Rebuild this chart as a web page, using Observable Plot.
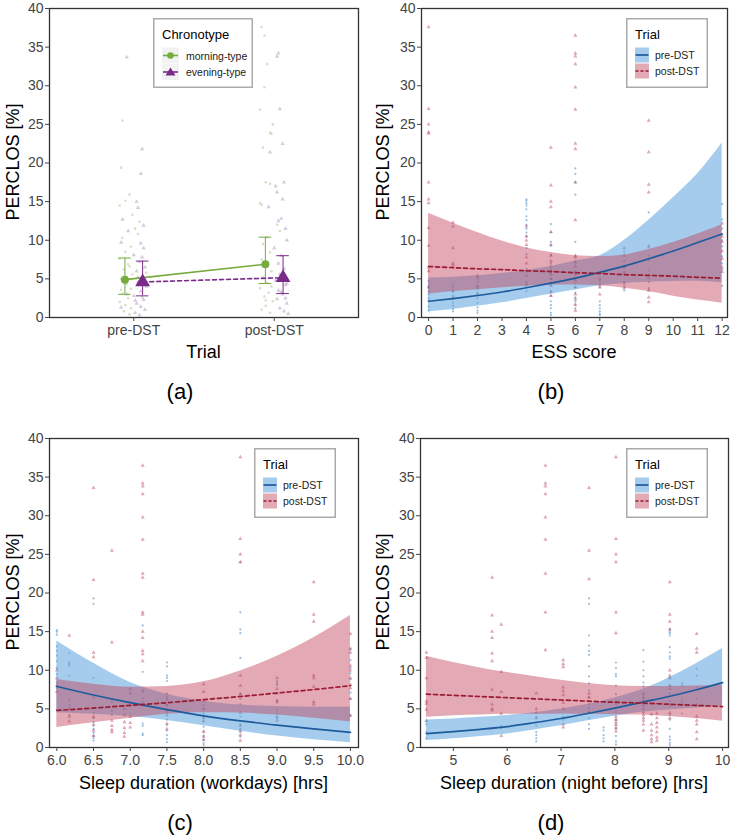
<!DOCTYPE html>
<html><head><meta charset="utf-8">
<script src="https://cdn.jsdelivr.net/npm/d3@7"></script>
<script src="https://cdn.jsdelivr.net/npm/@observablehq/plot@0.6"></script>
<style>
body{margin:0;background:#fff;}
#fig{position:relative;width:733px;height:835px;background:#fff;font-family:"Liberation Sans",Arial,sans-serif;overflow:hidden}
.panel{position:absolute}
.ytitle{position:absolute;font-size:18px;color:#000;transform:translate(-50%,-50%) rotate(-90deg);white-space:nowrap;line-height:1}
.xtitle{position:absolute;font-size:18px;color:#000;transform:translate(-50%,-50%);white-space:nowrap;line-height:1}
.cap{position:absolute;font-size:22px;color:#000;transform:translate(-50%,-50%);white-space:nowrap;line-height:1}
.legend{position:absolute}
</style>
</head><body>
<div id="fig"></div>
<script>
// ---------- Panel (a): PERCLOS by trial and chronotype ----------
const trials = ["pre-DST", "post-DST"];
const chronotypes = ["morning-type", "evening-type"];
const aMean = [[4.9, 6.9], [4.6, 5.15]];   // [chronotype][trial]
const aLow  = [[3.0, 4.4], [2.8, 3.1]];
const aHigh = [[7.7, 10.4], [7.3, 8.0]];
// jittered raw points: [jitter, PERCLOS, chronotype index]
const aPrePoints = [
 [-0.05,33.7,1],[-0.08,25.5,0],[0.06,21.8,1],[-0.09,19.4,0],[0.05,18.6,1],[-0.03,15.9,0],[-0.06,15.1,0],[0.02,15.0,1],
 [-0.1,14.5,0],[0.03,14.2,1],[0.04,12.4,0],[-0.08,12.7,1],[0.01,11.5,0],[-0.04,11.2,1],[0.03,10.8,0],[0.05,9.6,1],
 [-0.09,9.7,1],[-0.02,9.2,0],[0.07,9.0,1],[-0.06,8.5,0],[0.0,8.1,1],[-0.1,7.6,0],[0.04,7.2,1],[-0.04,6.9,0],
 [0.08,6.5,1],[-0.07,6.2,0],[0.02,6.0,1],[-0.01,5.6,0],[0.06,5.3,1],[-0.09,5.0,0],[0.03,4.6,1],[-0.05,4.3,0],
 [0.09,4.0,1],[-0.02,3.7,0],[0.05,3.4,1],[-0.08,3.1,0],[0.0,2.8,1],[-0.04,2.5,0],[0.07,2.3,1],[-0.1,2.0,0],
 [0.02,1.8,1],[-0.06,1.6,0],[0.05,1.4,1],[-0.02,1.2,0],[0.08,1.0,1],[-0.07,0.8,0],[0.01,0.6,1],[-0.03,0.4,0],
 [0.04,0.3,1],[-0.09,1.3,1],[0.06,2.6,0],[-0.05,3.0,1],[0.09,5.8,0],[-0.08,10.3,0],[0.07,11.9,1],[-0.01,13.3,0],
 [-0.07,4.8,0],[0.03,5.2,1],[-0.03,6.6,0],[0.06,7.8,1],[-0.09,3.6,0],[0.01,2.2,1]
];
const aPostPoints = [
 [-0.09,37.6,0],[-0.07,36.5,0],[0.03,34.2,1],[0.02,33.8,1],[-0.05,32.8,0],[-0.07,29.8,0],[-0.1,26.9,0],[0.04,27.0,1],
 [-0.01,25.0,0],[-0.03,23.9,0],[-0.02,23.8,0],[0.06,22.5,1],[-0.08,22.0,0],[-0.03,21.4,1],[-0.06,17.5,0],[-0.03,17.3,0],
 [0.01,17.0,1],[0.02,16.2,1],[0.07,17.5,1],[-0.1,14.8,0],[-0.09,14.6,0],[-0.04,14.3,1],[0.06,15.3,1],[0.05,12.8,1],
 [0.03,12.5,1],[0.02,12.0,0],[0.08,11.5,1],[0.04,11.2,0],[-0.05,10.4,0],[0.09,10.0,1],[-0.08,9.5,0],[0.0,9.0,1],
 [-0.03,8.4,0],[0.05,8.0,1],[-0.09,7.5,0],[0.03,7.0,1],[-0.06,6.7,0],[0.07,6.3,1],[-0.02,6.0,0],[0.04,5.6,1],
 [-0.08,5.2,0],[0.01,4.8,1],[-0.05,4.5,0],[0.08,4.2,1],[-0.1,3.8,0],[0.03,3.5,1],[-0.04,3.2,0],[0.06,3.0,1],
 [-0.07,2.7,0],[0.02,2.4,1],[-0.01,2.1,0],[0.09,1.8,1],[-0.06,1.5,0],[0.04,1.2,1],[-0.09,1.0,0],[0.07,0.8,1],
 [-0.03,0.6,0],[0.1,0.5,1],[0.05,3.3,1],[0.08,2.5,1],[-0.02,4.0,0],[0.06,5.0,1],[0.09,4.4,1],[-0.06,2.2,0]
];
const dodge = 0.063;

// ---------- Panel (b): ESS score ----------
const essTicks = [0,1,2,3,4,5,6,7,8,9,10,11,12];
const essPre = [
 [0,[0.9,1.4,2.2,2.5,3.0,3.4,3.9,4.1,4.7]],
 [1,[0.8,1.1,1.5,1.9,2.4,2.8,3.3,4.0,4.4]],
 [2,[0.6,0.9,1.3,1.9,2.5,2.9,3.2,3.7,4.1,4.6]],
 [4,[15.3,15.1,14.8,14.5,14.0,13.1,12.6,12.0,11.5,11.0,10.5,9.0,8.2,6.3,4.6,4.0,3.4]],
 [5,[0.3,0.6,1.2,1.6,2.1,2.8,3.4,4.2,5.0,5.6,6.2,7.0,8.1,9.3,9.8,11.0,12.1]],
 [6,[19.3,18.6,17.5,15.9,9.8,7.0,6.0,5.5,4.9,4.4,3.9,3.2,2.6,2.1,1.6,1.2]],
 [7,[0.3,0.5,0.8,1.2,1.6,2.1,4.0,4.7]],
 [8,[8.5,7.3,6.5,5.6,4.6,4.0,3.5]],
 [9,[13.6,9.3,8.0,6.1,5.5,4.6,3.8]],
 [12,[14.7,12.7,11.5,10.8,10.0,9.2,7.9,7.0,6.2,4.1]]
];
const essPost = [
 [0,[37.6,27,25,24,23.8,17.5,15.3,14.8,11.6,9.3,6.5,6.0,3.9]],
 [1,[12.3,11.8,9.0,7.0,6.8,3.5,2.6]],
 [2,[5.4,5.1,4.0,3.0]],
 [4,[11.8,10.5,10.0,9.4,7.8,7.0,6.0,5.4,4.3]],
 [5,[22,17.1,15.0,14.3,11.1,9.4,8.0,7.3,6.6,6.0,5.6,5.0,4.5,4.1,3.3,2.8]],
 [6,[36.5,34.2,33.8,32.8,29.8,26.9,22.5,21.8,17.5,12.6,8.0,7.8,7.2,6.6,5.7,4.8,3.9,3.0,2.4,1.7,0.9]],
 [7,[5.7,5.0,4.3,3.9,3.0]],
 [8,[9.0,8.0,6.6,5.9,4.4,3.8]],
 [9,[25.5,21.4,17.2,16.2,9.1,7.5,5.1,3.5,2.6,2.0]],
 [12,[12.2,10.5,9.8,8.6,7.6,6.5,5.9]]
];
const essGrid   = [0,1,2,3,4,5,6,7,8,9,10,11,12];
const essPreFit = [2.1,2.45,2.85,3.3,3.85,4.45,5.1,5.85,6.65,7.6,8.6,9.7,10.8];
const essPreLo  = [0.75,1.05,1.45,1.9,2.45,3.0,3.55,4.1,4.4,4.55,4.65,4.7,4.5];
const essPreHi  = [5.1,5.2,5.4,5.7,6.1,6.6,7.3,8.0,10.0,12.6,15.5,18.6,22.6];
const essPostFit= [6.6,6.45,6.3,6.2,6.05,5.95,5.8,5.7,5.55,5.45,5.35,5.2,5.1];
const essPostLo = [3.0,3.35,3.6,3.85,4.05,4.2,4.2,4.1,3.8,3.35,2.75,2.25,1.85];
const essPostHi = [13.5,12.2,11.0,9.9,9.0,8.4,8.0,7.9,8.1,8.8,9.7,10.8,12.0];

// ---------- Panel (c): sleep duration (workdays) ----------
const wdTicks = [6.0,6.5,7.0,7.5,8.0,8.5,9.0,9.5,10.0];
const wdPre = [
 [6.0,[15.2,15.0,14.6,13.1,12.5,11.9,11.2,10.3,9.5,8.4,7.7]],
 [6.17,[12.2,11.0,10.8,10.6,9.3,6.2,5.5,4.2]],
 [6.5,[19.3,18.6,9.0,4.5,3.8,3.3,2.8,2.4,1.9,1.5,1.2,0.9]],
 [6.75,[6.2,5.9,4.7,4.2]],
 [7.17,[15.8,9.8,7.2,6.4,5.9,5.5,3.1,2.8,1.8,1.6]],
 [7.5,[11.0,10.5,9.3,9.0,8.6,6.5,5.5,4.6,3.6,2.9,2.2,1.6,1.1,0.7]],
 [8.0,[5.5,5.0,4.4,3.8,3.3,2.7,2.0,1.5,1.0,0.6,0.3]],
 [8.5,[24.0,17.5,15.3,14.8,11.6,6.9,6.3,5.6,4.0,3.0,2.4,2.0,1.4]],
 [9.0,[8.6,8.3,8.1,6.1,5.8,4.9,4.4,3.8]],
 [10.0,[12.7,11.3,10.3,9.6,8.8,7.1,6.3,4.2]]
];
const wdPost = [
 [6.0,[10.0,9.0,8.0,7.2]],
 [6.17,[14.5,5.0,4.0,3.4]],
 [6.5,[33.6,21.7,12.3,11.7,6.5,4.0,3.0,2.2,1.5]],
 [6.75,[25.5,13.6,3.5,2.8,2.3,2.0]],
 [6.92,[5.0,4.2,3.3,2.5,1.9,1.4]],
 [7.0,[7.6,7.0,5.5,4.0,3.2,2.6]],
 [7.17,[36.5,34.2,33.8,32.8,29.8,26.9,22.5,22.0,17.5,17.2,15.0,14.2,12.5,12.1,11.2,7.4,5.5]],
 [7.5,[6.9,6.2,5.5,4.9,4.2,3.1,2.4]],
 [8.0,[8.2,7.2,6.0,5.0,4.0,3.5,2.1,1.4,1.0]],
 [8.5,[37.6,27.0,25.0,24.0,9.3,8.0,6.9,4.5,2.8,2.2,1.6,0.9]],
 [9.0,[9.0,7.6,7.0,6.0,4.0,3.5]],
 [9.5,[21.4,17.2,16.3,9.3,9.0,7.9,5.9,5.6]],
 [10.0,[14.7,12.8,12.3,10.6,10.0,9.0,8.1,7.7,6.3,4.1]]
];
const wdGrid    = [6.0,6.5,7.0,7.5,8.0,8.5,9.0,9.5,10.0];
const wdPreFit  = [7.9,6.8,5.8,4.9,4.1,3.45,2.9,2.4,1.95];
const wdPreLo   = [4.5,4.3,4.0,3.5,2.8,2.1,1.5,1.0,0.6];
const wdPreHi   = [13.8,10.9,8.4,6.9,6.0,5.5,5.3,5.2,5.2];
const wdPostFit = [4.8,5.1,5.45,5.8,6.2,6.6,7.05,7.5,8.0];
const wdPostLo  = [2.6,3.2,3.8,4.3,4.5,4.45,4.2,3.8,3.3];
const wdPostHi  = [8.8,8.2,7.8,7.9,8.5,9.9,11.8,14.2,17.1];

// ---------- Panel (d): sleep duration (night before) ----------
const nbTicks = [5,6,7,8,9,10];
const nbPre = [
 [4.5,[3.4,3.0,2.0,1.2]],
 [5.89,[2.8,2.5]],
 [6.54,[3.9,3.3,2.8,2.0,1.6,1.2,0.8]],
 [7.04,[4.0,3.6]],
 [7.52,[19.3,18.6,14.5,13.2,12.5,12.0,10.5,9.2,8.3,7.4,6.5,6.0,5.6,5.1,4.5,3.8,3.0,2.4]],
 [7.79,[2.6,2.2,1.6,1.2,0.8]],
 [8.02,[11.0,10.3,9.5,9.2,8.0,6.9,5.5,4.6,3.6,3.0,2.5,1.5,0.8,0.4]],
 [8.53,[12.6,11.1,10.0,9.2,8.4,7.9,6.8,6.3]],
 [9.02,[15.3,15.0,14.8,14.5,13.0,12.3,11.8,11.5,9.0,8.0,7.0,6.0,4.2,3.6,2.4,1.4,1.0,0.6,0.3]],
 [9.25,[8.3,8.0,6.0,5.6,4.4]],
 [9.52,[10.2,9.3,7.8,6.3]]
];
const nbPost = [
 [4.5,[12.3,11.6,9.0,6.0,5.7,4.9,3.5]],
 [5.72,[22.0,17.1,15.0,14.2,12.2,11.2,7.5,5.6,5.0,4.8]],
 [5.89,[15.9,9.8,7.2,4.4,1.5]],
 [6.54,[7.0,5.0,4.5,3.8]],
 [6.71,[36.5,34.2,33.8,32.8,29.8,26.9,22.5,17.5,12.6]],
 [7.04,[11.3,10.8,10.4,7.8,7.3,6.8,5.8,5.0,3.0,2.6]],
 [7.52,[33.6,25.5,21.8,7.0,6.5,4.6]],
 [8.02,[37.6,27.0,25.0,24.0,17.5,14.8,6.0,4.0,3.6,3.3,2.9,2.5,2.1]],
 [8.53,[7.0,6.5,6.0,5.5,5.0,4.6,4.2,3.8,3.5,3.0,2.2]],
 [8.68,[4.3,3.0,2.2,1.6,1.1,0.7]],
 [8.78,[4.4,3.8,3.2,2.6,2.0,1.3,0.9]],
 [9.02,[21.4,17.2,16.3,15.3,10.0,9.3,9.0,8.0,7.6,5.5,4.5,3.8]],
 [9.52,[14.7,12.8,12.3,5.5,4.0,3.5,3.0,2.0,1.1]]
];
const nbGrid    = [4.5,5,5.5,6,6.5,7,7.5,8,8.5,9,9.5,10];
const nbPreFit  = [1.8,2.05,2.35,2.7,3.2,3.75,4.4,5.1,5.85,6.6,7.45,8.4];
const nbPreLo   = [0.9,1.14,1.42,1.76,2.28,2.8,3.45,4.05,4.55,4.85,5.1,5.4];
const nbPreHi   = [3.55,3.7,3.9,4.15,4.5,5.0,5.6,6.4,7.5,9.0,10.8,12.8];
const nbPostFit = [6.9,6.75,6.6,6.45,6.3,6.15,6.0,5.85,5.75,5.6,5.45,5.3];
const nbPostLo  = [3.9,4.1,4.2,4.3,4.3,4.35,4.3,4.25,4.2,4.0,3.75,3.4];
const nbPostHi  = [11.8,11.0,10.3,9.7,9.2,8.7,8.3,8.0,7.9,7.9,7.95,8.1];

const yTicks = [0,5,10,15,20,25,30,35,40];

// ---------- styling constants ----------
const FONT = "Liberation Sans, Arial, sans-serif";
const GREEN = "#76ab3e", PURPLE = "#7a2b8a";
const BLUE_BAND = "#5ba3dc", PINK_BAND = "#c0405a";
const BLUE_LINE = "#1d5b9b", RED_LINE = "#9b1b32";
const BLUE_PT = "#3a80c2", RED_PT = "#b03050";

const fig = document.getElementById("fig");

function flat(groups) { return groups.flatMap(([x, vals]) => vals.map(v => ({x, y: v}))); }
function fitTable(grid, fit, lo, hi) { return grid.map((x, i) => ({x, fit: fit[i], lo: lo[i], hi: hi[i]})); }

function basePlot({width, ml, mr, xDomain, xTicks, xFormat, marks}) {
  return Plot.plot({
    width, height: 360, marginTop: 8, marginBottom: 43, marginLeft: ml, marginRight: mr,
    x: {domain: xDomain}, y: {domain: [0, 40]},
    style: {fontFamily: FONT, fontSize: "14px", background: "transparent", color: "#4d4d4d", overflow: "visible"},
    marks: [
      ...marks,
      Plot.frame({stroke: "#333", strokeWidth: 1.3}),
      Plot.axisY({ticks: yTicks, tickSize: 4, tickPadding: 2, label: null, fontSize: 14, color: "#444"}),
      Plot.axisX({ticks: xTicks, tickFormat: xFormat, tickSize: 4, tickPadding: 4, label: null, fontSize: 14, color: "#444"})
    ]
  });
}

function place(el, left, top) {
  el.classList.add("panel");
  el.style.left = left + "px"; el.style.top = top + "px";
  fig.appendChild(el);
}
function addText(cls, text, x, y) {
  const d = document.createElement("div");
  d.className = cls; d.textContent = text;
  d.style.left = x + "px"; d.style.top = y + "px";
  fig.appendChild(d);
}

// ----- Panel (a) -----
const aSummary = [];
chronotypes.forEach((c, ci) => trials.forEach((t, ti) => aSummary.push({
  c: ci, xd: ti + (ci === 0 ? -dodge : dodge), mean: aMean[ci][ti], lo: aLow[ci][ti], hi: aHigh[ci][ti]
})));
const aPts = [
  ...aPrePoints.map(([j, v, c]) => ({x: 0 + j, y: v, c})),
  ...aPostPoints.map(([j, v, c]) => ({x: 1 + j, y: v, c}))
];
const capW = 0.045;
const plotA = basePlot({
  width: 366, ml: 49, mr: 8, xDomain: [-0.6, 1.6], xTicks: [0, 1], xFormat: d => trials[d],
  marks: [
    Plot.dot(aPts.filter(d => d.c === 0), {x: "x", y: "y", r: 1.3, fill: "#a3bb84", fillOpacity: 0.45}),
    Plot.dot(aPts.filter(d => d.c === 1), {x: "x", y: "y", r: 1.6, symbol: "triangle", fill: "#a58bb2", fillOpacity: 0.45}),
    ...[0, 1].map(ci => {
      const col = ci === 0 ? GREEN : PURPLE;
      const s = aSummary.filter(d => d.c === ci);
      return [
        Plot.ruleX(s, {x: "xd", y1: "lo", y2: "hi", stroke: col, strokeWidth: 1}),
        Plot.ruleY(s, {y: "hi", x1: d => d.xd - capW, x2: d => d.xd + capW, stroke: col, strokeWidth: 1}),
        Plot.ruleY(s, {y: "lo", x1: d => d.xd - capW, x2: d => d.xd + capW, stroke: col, strokeWidth: 1}),
        Plot.line(s, {x: "xd", y: "mean", stroke: col, strokeWidth: 1.6, strokeDasharray: ci === 0 ? null : "4,3"}),
        ci === 0
          ? Plot.dot(s, {x: "xd", y: "mean", r: 4, fill: col})
          : Plot.dot(s, {x: "xd", y: "mean", r: 5.5, symbol: "triangle", fill: col})
      ];
    }).flat()
  ]
});
place(plotA, 0, 0);

// ----- panels b, c, d -----
function regressionMarks(pre, post, preFit, postFit) {
  return [
    Plot.dot(flat(pre), {x: "x", y: "y", r: 1.1, fill: BLUE_PT, fillOpacity: 0.5}),
    Plot.dot(flat(post), {x: "x", y: "y", r: 1.5, symbol: "triangle", fill: RED_PT, fillOpacity: 0.42}),
    Plot.areaY(preFit, {x: "x", y1: "lo", y2: "hi", fill: BLUE_BAND, fillOpacity: 0.55, curve: "monotone-x"}),
    Plot.areaY(postFit, {x: "x", y1: "lo", y2: "hi", fill: PINK_BAND, fillOpacity: 0.45, curve: "monotone-x"}),
    Plot.line(preFit, {x: "x", y: "fit", stroke: BLUE_LINE, strokeWidth: 1.7, curve: "monotone-x"}),
    Plot.line(postFit, {x: "x", y: "fit", stroke: RED_LINE, strokeWidth: 1.7, strokeDasharray: "4,3", curve: "monotone-x"})
  ];
}

const plotB = basePlot({
  width: 367, ml: 55, mr: 6, xDomain: [-0.29, 12.22], xTicks: essTicks, xFormat: d => String(d),
  marks: regressionMarks(essPre, essPost,
    fitTable(essGrid, essPreFit, essPreLo, essPreHi), fitTable(essGrid, essPostFit, essPostLo, essPostHi))
});
place(plotB, 366, 0);

const plotC = basePlot({
  width: 366, ml: 49, mr: 8, xDomain: [5.9, 10.11], xTicks: wdTicks, xFormat: d3.format(".1f"),
  marks: regressionMarks(wdPre, wdPost,
    fitTable(wdGrid, wdPreFit, wdPreLo, wdPreHi), fitTable(wdGrid, wdPostFit, wdPostLo, wdPostHi))
});
place(plotC, 0, 430);

const plotD = basePlot({
  width: 367, ml: 54, mr: 5, xDomain: [4.39, 10.11], xTicks: nbTicks, xFormat: d => String(d),
  marks: regressionMarks(nbPre, nbPost,
    fitTable(nbGrid, nbPreFit, nbPreLo, nbPreHi), fitTable(nbGrid, nbPostFit, nbPostLo, nbPostHi))
});
place(plotD, 366, 430);

// ----- titles & captions -----
const yTitle = "PERCLOS [%]";
addText("ytitle", yTitle, 13, 162);
addText("ytitle", yTitle, 383, 162);
addText("ytitle", yTitle, 13, 592);
addText("ytitle", yTitle, 383, 592);
addText("xtitle", "Trial", 203.5, 352);
addText("xtitle", "ESS score", 574, 352);
addText("xtitle", "Sleep duration (workdays) [hrs]", 203.5, 783);
addText("xtitle", "Sleep duration (night before) [hrs]", 574, 783);
addText("cap", "(a)", 180, 392);
addText("cap", "(b)", 551, 392);
addText("cap", "(c)", 180, 823);
addText("cap", "(d)", 551, 823);

// ----- legends -----
const NS = "http://www.w3.org/2000/svg";
function svgEl(tag, attrs, parent) {
  const e = document.createElementNS(NS, tag);
  for (const k in attrs) e.setAttribute(k, attrs[k]);
  if (parent) parent.appendChild(e);
  return e;
}
function legendBox(x, y, w, h, title) {
  const s = svgEl("svg", {width: w, height: h});
  s.setAttribute("class", "legend");
  s.style.left = x + "px"; s.style.top = y + "px";
  svgEl("rect", {x: 0.75, y: 0.75, width: w - 1.5, height: h - 1.5, fill: "#fff", stroke: "#aaa", "stroke-width": 1.5}, s);
  const t = svgEl("text", {x: 9, y: 21, "font-family": FONT, "font-size": 13, fill: "#000"}, s);
  t.textContent = title;
  fig.appendChild(s);
  return s;
}
function legendLabel(s, x, y, text) {
  const t = svgEl("text", {x, y, "font-family": FONT, "font-size": 10.5, fill: "#222", "dominant-baseline": "central"}, s);
  t.textContent = text;
}

// chronotype legend (a)
{
  const s = legendBox(153, 18, 100, 70, "Chronotype");
  [0, 1].forEach(i => {
    const cy = 37.5 + i * 16.5;
    svgEl("rect", {x: 9, y: cy - 8, width: 17, height: 16, fill: "#f2f2f2"}, s);
    const col = i === 0 ? GREEN : PURPLE;
    svgEl("line", {x1: 10, x2: 25, y1: cy, y2: cy, stroke: col, "stroke-width": 1.6}, s);
    if (i === 0) svgEl("circle", {cx: 17.5, cy, r: 3.3, fill: col}, s);
    else svgEl("path", {d: `M17.5,${cy - 4.5}L22.5,${cy + 3.5}L12.5,${cy + 3.5}Z`, fill: col}, s);
    legendLabel(s, 33, cy, chronotypes[i]);
  });
}
// trial legends (b, c, d)
function trialLegend(x, y) {
  const s = legendBox(x, y, 82, 70, "Trial");
  [0, 1].forEach(i => {
    const cy = 37 + i * 16;
    svgEl("rect", {x: 9, y: cy - 7.5, width: 14, height: 15, fill: "#fff"}, s);
    svgEl("rect", {x: 9, y: cy - 7.5, width: 14, height: 15, fill: i === 0 ? BLUE_BAND : PINK_BAND, "fill-opacity": i === 0 ? 0.55 : 0.45}, s);
    svgEl("line", {x1: 9.5, x2: 22.5, y1: cy, y2: cy, stroke: i === 0 ? BLUE_LINE : RED_LINE, "stroke-width": 1.7,
      "stroke-dasharray": i === 0 ? "none" : "3,2"}, s);
    legendLabel(s, 29, cy, trials[i]);
  });
}
trialLegend(626, 18);
trialLegend(254, 448);
trialLegend(626, 448);
</script>
</body></html>
